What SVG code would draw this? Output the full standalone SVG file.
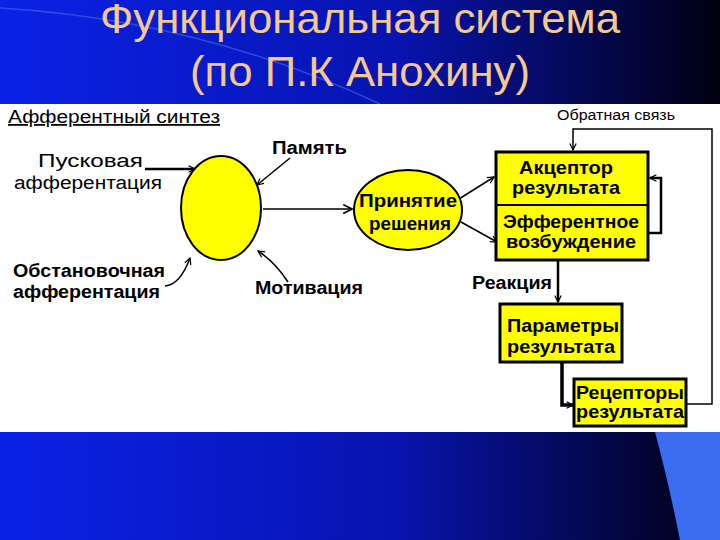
<svg xmlns="http://www.w3.org/2000/svg" width="720" height="540" viewBox="0 0 720 540">
<defs>
<linearGradient id="bg" x1="0" y1="0" x2="1" y2="0">
<stop offset="0" stop-color="#0a22e6"/><stop offset="0.55" stop-color="#0814b0"/><stop offset="1" stop-color="#000010"/>
</linearGradient>
<marker id="ar" viewBox="0 0 10 10" refX="9" refY="5" markerWidth="8" markerHeight="8" orient="auto" markerUnits="userSpaceOnUse">
<path d="M1,1 L9,5 L1,9" fill="none" stroke="#000" stroke-width="1.5"/>
</marker>
<marker id="ar2" viewBox="0 0 10 10" refX="9" refY="5" markerWidth="11" markerHeight="11" orient="auto" markerUnits="userSpaceOnUse">
<path d="M1,1 L9,5 L1,9" fill="none" stroke="#000" stroke-width="1.5"/>
</marker>
</defs>
<style>
.t{font-family:"Liberation Sans",Arial,sans-serif;font-size:18px;font-weight:bold;fill:#000}
.r{font-family:"Liberation Sans",Arial,sans-serif;font-size:18px;fill:#000}
.n{font-family:"Liberation Sans",Arial,sans-serif;font-size:14px;fill:#000}
.ti{font-family:"Liberation Sans",Arial,sans-serif;font-size:42px;fill:#f3c98e;text-anchor:middle}
.box{fill:#ffff00;stroke:#000;stroke-width:3}
.c{fill:none;stroke:#000}
</style>
<rect width="720" height="540" fill="url(#bg)"/>
<path d="M655,432 Q668,480 680,540 L720,540 L720,432 Z" fill="#3c6cf0"/>
<path d="M0,8 Q200,20 380,104" fill="none" stroke="#4a6af0" stroke-width="1.5" opacity="0.6"/>
<text class="ti" x="360" y="33" textLength="520" lengthAdjust="spacingAndGlyphs">Функциональная система</text>
<text class="ti" x="360" y="86" textLength="340" lengthAdjust="spacingAndGlyphs">(по П.К Анохину)</text>
<rect x="0" y="104" width="720" height="328" fill="#fff"/>
<text class="r" x="8" y="123" textLength="212" lengthAdjust="spacingAndGlyphs" text-decoration="underline">Афферентный синтез</text>
<text class="n" x="557" y="120" textLength="118" lengthAdjust="spacingAndGlyphs">Обратная связь</text>

<g id="connectors">
<line class="c" x1="145" y1="169" x2="195" y2="169" style="stroke-width:2.5" marker-end="url(#ar)"/>
<path class="c" d="M290,158 L257,185" style="stroke-width:1.5" marker-end="url(#ar)"/>
<path class="c" d="M165,286 Q180,285 190,258" style="stroke-width:1.5" marker-end="url(#ar)"/>
<path class="c" d="M288,282 Q275,262 258,251" style="stroke-width:1.5" marker-end="url(#ar)"/>
<line class="c" x1="263" y1="209" x2="352" y2="209" style="stroke-width:1.5" marker-end="url(#ar2)"/>
<line class="c" x1="459" y1="199" x2="494" y2="177" style="stroke-width:1.5" marker-end="url(#ar)"/>
<line class="c" x1="461" y1="222" x2="497" y2="242" style="stroke-width:1.5" marker-end="url(#ar)"/>
<path class="c" d="M648,233 H661 V178 H650" style="stroke-width:2.5" marker-end="url(#ar)"/>
<path class="c" d="M686,404 H712 V129 H573 V150" style="stroke-width:1.5" marker-end="url(#ar)"/>
<line class="c" x1="558" y1="260" x2="558" y2="302" style="stroke-width:2.5" marker-end="url(#ar)"/>
<path class="c" d="M562,362 V405 H573" style="stroke-width:3.5" marker-end="url(#ar)"/>
</g>

<g id="synthesis"><ellipse cx="221" cy="208" rx="40" ry="52" fill="#ffff00" stroke="#000" stroke-width="2"/></g>
<g id="trigger"><text class="r" x="38" y="167" textLength="105" lengthAdjust="spacingAndGlyphs">Пусковая</text><text class="r" x="14" y="189" textLength="148" lengthAdjust="spacingAndGlyphs">афферентация</text></g>
<g id="memory"><text class="t" x="272" y="154" textLength="75" lengthAdjust="spacingAndGlyphs">Память</text></g>
<g id="situation"><text class="t" x="13" y="277" textLength="152" lengthAdjust="spacingAndGlyphs">Обстановочная</text><text class="t" x="13" y="298" textLength="147" lengthAdjust="spacingAndGlyphs">афферентация</text></g>
<g id="motivation"><text class="t" x="255" y="294" textLength="108" lengthAdjust="spacingAndGlyphs">Мотивация</text></g>
<g id="decision"><ellipse cx="408" cy="210" rx="54" ry="40" fill="#ffff00" stroke="#000" stroke-width="2"/>
<text class="t" x="408" y="207" text-anchor="middle" textLength="98" lengthAdjust="spacingAndGlyphs">Принятие</text><text class="t" x="410" y="230" text-anchor="middle" textLength="82" lengthAdjust="spacingAndGlyphs">решения</text></g>
<g id="acceptor"><rect class="box" x="496" y="152" width="152" height="108"/><line x1="496" y1="205" x2="648" y2="205" stroke="#000" stroke-width="2"/>
<text class="t" x="566" y="174" text-anchor="middle" textLength="94" lengthAdjust="spacingAndGlyphs">Акцептор</text><text class="t" x="566" y="194" text-anchor="middle" textLength="108" lengthAdjust="spacingAndGlyphs">результата</text>
<text class="t" x="571" y="228" text-anchor="middle" textLength="136" lengthAdjust="spacingAndGlyphs">Эфферентное</text><text class="t" x="571" y="248" text-anchor="middle" textLength="130" lengthAdjust="spacingAndGlyphs">возбуждение</text></g>
<g id="reaction"><text class="t" x="472" y="289" textLength="80" lengthAdjust="spacingAndGlyphs">Реакция</text></g>
<g id="params"><rect class="box" x="500" y="304" width="122" height="58"/>
<text class="t" x="507" y="332" textLength="112" lengthAdjust="spacingAndGlyphs">Параметры</text><text class="t" x="507" y="353" textLength="108" lengthAdjust="spacingAndGlyphs">результата</text></g>
<g id="receptors"><rect class="box" x="574" y="379" width="112" height="47"/>
<text class="t" x="576" y="399" textLength="108" lengthAdjust="spacingAndGlyphs">Рецепторы</text><text class="t" x="576" y="418" textLength="108" lengthAdjust="spacingAndGlyphs">результата</text></g>
</svg>
